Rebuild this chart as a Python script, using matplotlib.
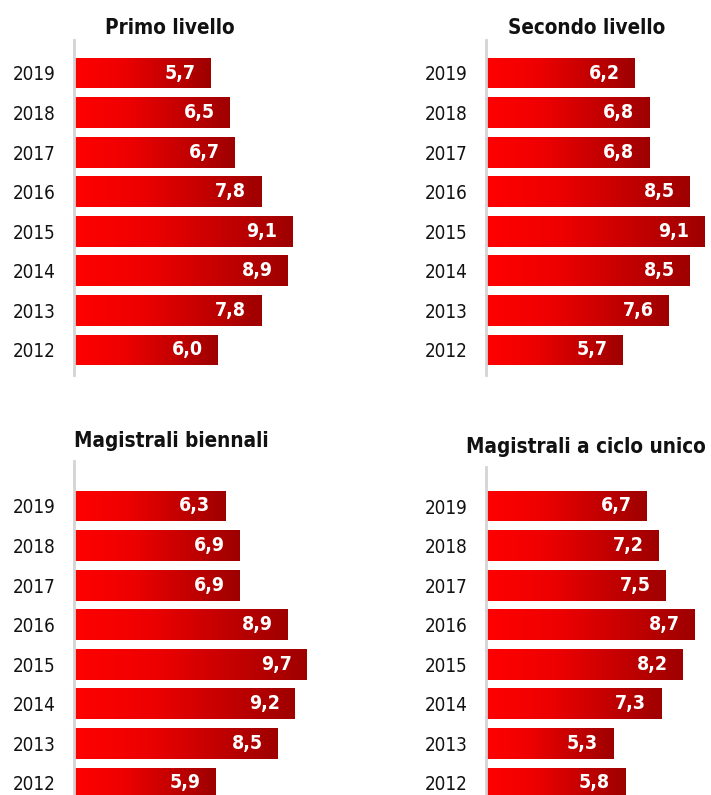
"""Quattro pannelli di barre orizzontali con gradiente rosso, anni 2012-2019."""

import matplotlib

matplotlib.use("Agg")
import matplotlib.pyplot as plt
import numpy as np
from matplotlib.colors import LinearSegmentedColormap

plt.rcParams["font.family"] = "DejaVu Sans"
plt.rcParams["font.stretch"] = "condensed"

YEARS = ["2012", "2013", "2014", "2015", "2016", "2017", "2018", "2019"]

PRIMO = [6.0, 7.8, 8.9, 9.1, 7.8, 6.7, 6.5, 5.7]
SECONDO = [5.7, 7.6, 8.5, 9.1, 8.5, 6.8, 6.8, 6.2]
BIENNALI = [5.9, 8.5, 9.2, 9.7, 8.9, 6.9, 6.9, 6.3]
CICLO_UNICO = [5.8, 5.3, 7.3, 8.2, 8.7, 7.5, 7.2, 6.7]

TITLES = ["Primo livello", "Secondo livello", "Magistrali biennali", "Magistrali a ciclo unico"]

W, H = 711, 795
PX_PER_UNIT = 24.0
SPACING = 39.57

red_grad = LinearSegmentedColormap.from_list(
    "red_grad", [(0.0, "#ff0000"), (0.35, "#ee0000"), (1.0, "#9e0000")]
)
gradient = np.linspace(0, 1, 256).reshape(1, -1)

# (x of axis line, y of 2019 centre, y of axis top, title centre x, title centre y)
panels = [
    (PRIMO, 74, 73, 40, 170, 28),
    (SECONDO, 486, 73, 40, 587, 28),
    (BIENNALI, 74, 506, 461, 171, 441),
    (CICLO_UNICO, 486, 506, 467, 586, 447),
]

fig = plt.figure(figsize=(W / 100, H / 100), dpi=100)

for (values, x0, y2019, ytop, tx, ty), title in zip(panels, TITLES):
    width_px = 240
    # y pixel of 2012 centre, axis bottom 25 px below it
    y2012 = y2019 + 7 * SPACING
    ybot = y2012 + 25
    ax = fig.add_axes([x0 / W, 1 - ybot / H, width_px / W, (ybot - ytop) / H])

    ypos = np.arange(len(YEARS))
    bars = ax.barh(ypos, values, height=0.78, color="none", edgecolor="none")
    for bar, v in zip(bars, values):
        x, y = bar.get_x(), bar.get_y()
        im = ax.imshow(
            gradient,
            extent=(x, x + bar.get_width(), y, y + bar.get_height()),
            cmap=red_grad,
            aspect="auto",
            interpolation="bicubic",
            zorder=2,
        )
        im.set_clip_path(bar)
        ax.text(
            v - 15 / PX_PER_UNIT,
            y + bar.get_height() / 2,
            f"{v:.1f}".replace(".", ","),
            ha="right",
            va="center",
            color="white",
            fontsize=14,
            fontweight="bold",
            zorder=3,
        )
    ax.set_xlim(0, width_px / PX_PER_UNIT)
    ax.set_ylim(-25 / SPACING, 7 + (y2019 - ytop) / SPACING)

    ax.set_yticks(ypos)
    ax.set_yticklabels(YEARS, fontsize=13.5, color="#111111")
    ax.tick_params(axis="y", length=0, pad=13)
    ax.set_xticks([])
    for side in ("top", "right", "bottom"):
        ax.spines[side].set_visible(False)
    ax.spines["left"].set_color("#d4d4d4")
    ax.spines["left"].set_linewidth(2)
    ax.patch.set_alpha(0)

    fig.text(
        tx / W,
        1 - ty / H,
        title,
        ha="center",
        va="center",
        fontsize=14.9,
        fontweight="bold",
        color="#111111",
    )

fig.savefig("out.png", dpi=100)
